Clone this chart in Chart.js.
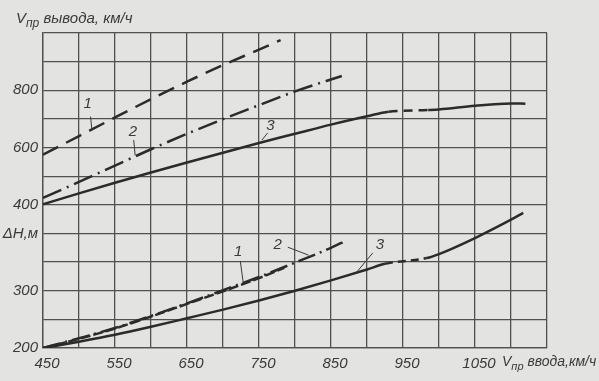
<!DOCTYPE html>
<html><head><meta charset="utf-8">
<script src="https://cdn.jsdelivr.net/npm/chart.js@4.4.1/dist/chart.umd.min.js"></script>
<style>html,body{margin:0;padding:0;background:#e3e3e1;}#wrap{width:599px;height:381px;position:relative}</style>
</head><body><div id="wrap"><canvas id="c" width="599" height="381"></canvas></div>
<script>
// X: V пр ввода, км/ч
const xTickLabels = ['450','550','650','750','850','950','1050'];
// Left axis tick labels (upper: V пр вывода, км/ч; lower: ΔH, м)
const yTickValues = [-100, 100, 300, 400, 600, 800];
const yTickLabels = ['200', '300', 'ΔH,м', '400', '600', '800'];

// Upper curves: V пр вывода, км/ч
const curve1V_x = [450,500,550,600,650,700,750,780];
const curve1V_y = [575,640,705,769,830,888,942,975];
const curve2V_x = [450,500,550,600,650,700,750,800,865];
const curve2V_y = [424,480,537,594,648,699,748,796,850];
const curve3V_x = [450,500,550,600,650,700,750,800,850,900,930,985,1000,1050,1100,1120];
const curve3V_y = [402,440,477,513,548,582,616,648,680,709,725,731,733,746,754,753];

// Lower curves: ΔH, м
const curve1H_x = [450,500,550,600,650,700,750,785];
const curve1H_y = [200,216,234,255,277,299,322,340];
const curve2H_x = [450,500,550,600,650,700,750,800,850,870];
const curve2H_y = [200,217,235,256,278,301,324,349,375,387];
const curve3H_x = [450,500,550,600,650,700,750,800,850,900,925,983,1000,1050,1100,1117];
const curve3H_y = [200,211,223,237,252,267,283,300,318,337,347,357,364,392,424,436];

const pts = (xs, ys) => xs.map((x, i) => ({x, y: ys[i]}));
const INK = '#2b2b2b';
const GRID = '#505050';
const FONT = '"Liberation Sans", Arial, sans-serif';

function dashBetween(from, to, dash) {
  return {borderDash: c => (c.p0.parsed.x >= from && c.p1.parsed.x <= to) ? dash : undefined};
}

const labelsCfg = [
  {t:'1', axis:'yV', x:512, y:752, a:[516,708], b:[518,660]},
  {t:'2', axis:'yV', x:575, y:654, a:[576,626], b:[578,572]},
  {t:'3', axis:'yV', x:766, y:675, a:[762,651], b:[754,626]},
  {t:'1', axis:'yH', x:721, y:368, a:[724,352], b:[728,315]},
  {t:'2', axis:'yH', x:776, y:381, a:[790,376], b:[819,362]},
  {t:'3', axis:'yH', x:918, y:381, a:[908,366], b:[886,333]}
];

function drawSubText(ctx, x, y, main, sub, rest, size) {
  ctx.save();
  ctx.fillStyle = '#3a3a3a';
  ctx.textBaseline = 'alphabetic';
  ctx.textAlign = 'left';
  ctx.font = 'italic ' + size + 'px ' + FONT;
  ctx.fillText(main, x, y);
  let w = ctx.measureText(main).width;
  ctx.font = 'italic ' + (size - 3) + 'px ' + FONT;
  ctx.fillText(sub, x + w, y + 4);
  w += ctx.measureText(sub).width;
  ctx.font = 'italic ' + size + 'px ' + FONT;
  ctx.fillText(rest, x + w, y);
  ctx.restore();
}

const deco = {
  id: 'deco',
  beforeDraw(chart) {
    const ctx = chart.ctx;
    ctx.save();
    ctx.fillStyle = '#e3e3e1';
    ctx.fillRect(0, 0, chart.width, chart.height);
    ctx.restore();
  },
  afterDraw(chart) {
    const ctx = chart.ctx;
    const xs = chart.scales.x;
    const ca = chart.chartArea;
    drawSubText(ctx, 16, 23, 'V', 'пр', ' вывода, км/ч', 15);
    drawSubText(ctx, ca.right - 45, 366, 'V', 'пр', ' ввода,км/ч', 14);
    ctx.save();
    labelsCfg.forEach(l => {
      const ys = chart.scales[l.axis];
      ctx.fillStyle = '#3a3a3a';
      ctx.font = 'italic 15px ' + FONT;
      ctx.textAlign = 'center';
      ctx.textBaseline = 'middle';
      ctx.fillText(l.t, xs.getPixelForValue(l.x), ys.getPixelForValue(l.y));
      ctx.strokeStyle = '#3a3a3a';
      ctx.lineWidth = 1;
      ctx.beginPath();
      ctx.moveTo(xs.getPixelForValue(l.a[0]), ys.getPixelForValue(l.a[1]));
      ctx.lineTo(xs.getPixelForValue(l.b[0]), ys.getPixelForValue(l.b[1]));
      ctx.stroke();
    });
    ctx.restore();
  }
};

const common = {borderColor: INK, borderWidth: 2.5, pointRadius: 0, fill: false, cubicInterpolationMode: 'monotone'};

new Chart(document.getElementById('c'), {
  type: 'line',
  data: {
    datasets: [
      Object.assign({label:'1', yAxisID:'yV', data: pts(curve1V_x, curve1V_y), borderDash:[17,9]}, common),
      Object.assign({label:'2', yAxisID:'yV', data: pts(curve2V_x, curve2V_y), borderDash:[20,6,2,6]}, common),
      Object.assign({label:'3', yAxisID:'yV', data: pts(curve3V_x, curve3V_y), segment: dashBetween(930, 985, [9,6])}, common),
      Object.assign({label:'1', yAxisID:'yH', data: pts(curve1H_x, curve1H_y), borderDash:[10,3]}, common),
      Object.assign({label:'2', yAxisID:'yH', data: pts(curve2H_x, curve2H_y), borderDash:[18,5,2,5]}, common),
      Object.assign({label:'3', yAxisID:'yH', data: pts(curve3H_x, curve3H_y), segment: dashBetween(925, 983, [8,5])}, common)
    ]
  },
  options: {
    responsive: false,
    animation: false,
    layout: {padding: {top: 33, right: 52, left: 0, bottom: 0}},
    plugins: {legend: {display: false}, tooltip: {enabled: false}},
    scales: {
      x: {
        type: 'linear', min: 450, max: 1150,
        grid: {color: GRID, lineWidth: 1.3, drawTicks: false},
        border: {color: GRID, width: 1.3},
        afterFit: s => { s.height = 33; },
        ticks: {
          stepSize: 50, padding: 7, labelOffset: 4, maxRotation: 0, autoSkip: false,
          color: '#3a3a3a', font: {family: FONT, size: 15, style: 'italic'},
          callback: v => xTickLabels.includes(String(v)) ? String(v) : ''
        }
      },
      yV: {
        type: 'linear', position: 'left', min: -100, max: 1000,
        grid: {color: GRID, lineWidth: 1.3, drawTicks: false},
        border: {color: GRID, width: 1.3},
        afterFit: s => { s.width = 43; },
        ticks: {
          stepSize: 100, padding: 5, autoSkip: false,
          color: '#3a3a3a', font: {family: FONT, size: 15, style: 'italic'},
          callback: v => { const i = yTickValues.indexOf(v); return i >= 0 ? yTickLabels[i] : ''; }
        }
      },
      yH: {
        type: 'linear', position: 'right', min: 200, max: 750, display: false
      }
    }
  },
  plugins: [deco]
});
</script></body></html>
